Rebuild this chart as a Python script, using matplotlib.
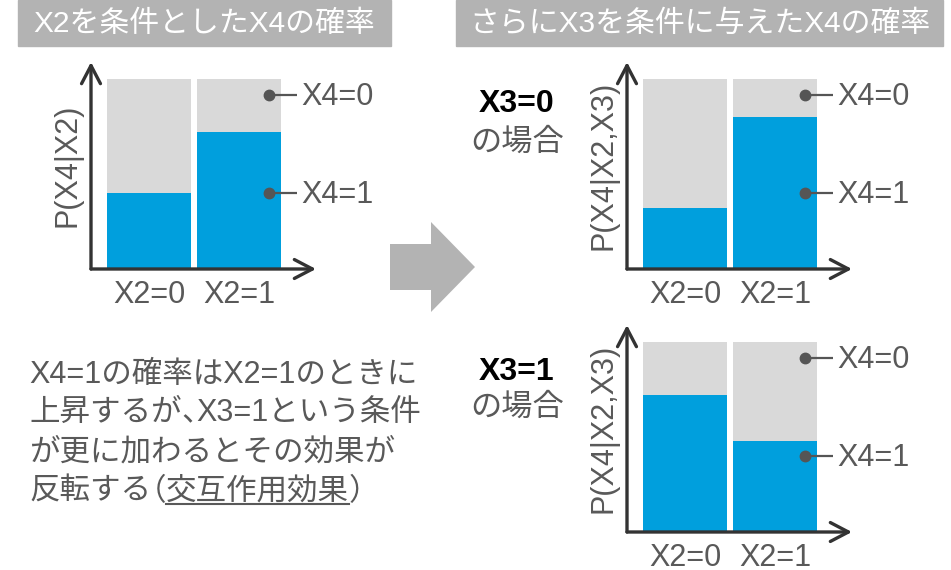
import matplotlib
matplotlib.use("Agg")
import matplotlib.pyplot as plt
from matplotlib.patches import Rectangle, Polygon
from matplotlib.lines import Line2D

plt.rcParams["font.family"] = ["Liberation Sans", "Noto Sans CJK JP"]

# ---- data ----
categories = ["X2=0", "X2=1"]
p_x4_given_x2 = [0.40, 0.72]          # P(X4=1 | X2)
p_x4_given_x2_x3_0 = [0.32, 0.80]     # P(X4=1 | X2, X3=0)
p_x4_given_x2_x3_1 = [0.72, 0.48]     # P(X4=1 | X2, X3=1)
segment_labels = ["X4=1", "X4=0"]

title_left = "X2を条件としたX4の確率"
title_right = "さらにX3を条件に与えたX4の確率"
ylabel_left = "P(X4|X2)"
ylabel_right = "P(X4|X2,X3)"
case_labels = ["X3=0", "X3=1"]
case_suffix = "の場合"
# each note line is a run of pieces; the second value tightens the gap
# after a full-width punctuation mark (in pixels)
note_lines = [
    [("X4=1の確率はX2=1のときに", 0)],
    [("上昇するが", 0), ("、", 16), ("X3=1という条件", 0)],
    [("が更に加わるとその効果が", 0)],
    [("反転する", 15), ("（", 1), ("交互作用効果", 0), ("）", 0)],
]
underlined = "交互作用効果"

# ---- style ----
BLUE = "#009FDD"
LIGHT = "#D9D9D9"
BOX = "#B3B3B3"
TEXT = "#595959"
AXIS = "#333333"
FS = 22

W, H = 951, 570
fig = plt.figure(figsize=(W / 100, H / 100), dpi=100)


def fx(px):
    return px / W


def fy(py):
    return 1 - py / H


def panel(left_px, axis_y_px, values, ylabel):
    ax_w, ax_h = 225, 207
    ax = fig.add_axes([fx(left_px), fy(axis_y_px), ax_w / W, ax_h / H])
    x = range(len(categories))
    rest = [1 - v for v in values]
    ax.bar(x, values, width=0.933, color=BLUE, linewidth=0)
    ax.bar(x, rest, bottom=values, width=0.933, color=LIGHT, linewidth=0)
    ax.set_xlim(-0.644, 1.856)
    ax.set_ylim(0, ax_h / 190)
    for s in ax.spines.values():
        s.set_visible(False)
    ax.set_yticks([])
    ax.set_xticks(list(x), categories)
    ax.tick_params(axis="x", length=0, pad=8, labelsize=FS, labelcolor=TEXT)
    ax.set_ylabel(ylabel, fontsize=FS, color=TEXT, labelpad=6)
    arrow = dict(arrowstyle="->,head_length=0.65,head_width=0.34",
                 lw=2.4, color=AXIS, shrinkA=0, shrinkB=0, mutation_scale=20)
    ax.annotate("", xy=(0, 1), xytext=(0, 0), xycoords="axes fraction",
                arrowprops=arrow, annotation_clip=False)
    ax.annotate("", xy=(1, 0), xytext=(0, 0), xycoords="axes fraction",
                arrowprops=arrow, annotation_clip=False)
    # callouts for the two stacked segments
    for lab, yv in zip(segment_labels, [0.40, 0.916]):
        ax.plot([1.333, 1.644], [yv, yv], color="#555555", lw=1.6,
                solid_capstyle="butt", clip_on=False)
        ax.plot([1.333], [yv], "o", color="#555555", ms=7.5, clip_on=False)
        ax.text(1.69, yv - 0.012, lab, fontsize=FS, color=TEXT, va="center",
                ha="left", clip_on=False)
    return ax


panel(91, 269, p_x4_given_x2, ylabel_left)
panel(627, 269, p_x4_given_x2_x3_0, ylabel_right)
panel(627, 532, p_x4_given_x2_x3_1, ylabel_right)

# title boxes
for (x0, x1), title in zip([(18, 391), (456, 943)], [title_left, title_right]):
    fig.patches.append(Rectangle((fx(x0), fy(46)), (x1 - x0) / W, 46 / H,
                                 transform=fig.transFigure, color=BOX, zorder=0))
    fig.text(fx((x0 + x1) / 2), fy(24), title, color="white", fontsize=21.5,
             ha="center", va="center")

# case labels
for lab, y1, y2 in zip(case_labels, [104, 372], [143, 408]):
    fig.text(fx(517), fy(y1), lab, fontsize=23, fontweight="bold",
             color="black", ha="center", va="center")
    fig.text(fx(517), fy(y2), case_suffix, fontsize=22.5, color=TEXT,
             ha="center", va="center")

# big arrow between the two stages
arrow_pts = [(390, 244), (431, 244), (431, 222), (475, 267), (431, 312),
             (431, 290), (390, 290)]
fig.patches.append(Polygon([(fx(a), fy(b)) for a, b in arrow_pts], closed=True,
                           transform=fig.transFigure, color=BOX, lw=0))

# explanatory note
renderer = fig.canvas.get_renderer()
for pieces, yc in zip(note_lines, [375, 413, 453, 492]):
    xpos = 29
    for part, tighten in pieces:
        t = fig.text(fx(xpos), fy(yc), part, fontsize=FS, color=TEXT,
                     ha="left", va="center")
        bb = t.get_window_extent(renderer)
        if part == underlined:
            fig.add_artist(Line2D([bb.x0 / W, bb.x1 / W],
                                  [fy(yc + 12), fy(yc + 12)],
                                  transform=fig.transFigure, color=TEXT,
                                  lw=1.5))
        xpos = bb.x1 - tighten

fig.savefig("out.png", dpi=100)
